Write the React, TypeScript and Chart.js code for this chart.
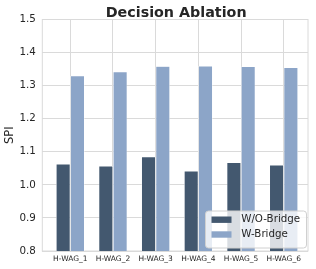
import React, { useEffect, useRef } from 'react';
import { Chart, registerables } from 'chart.js';

Chart.register(...registerables);

const categories = ['H-WAG_1', 'H-WAG_2', 'H-WAG_3', 'H-WAG_4', 'H-WAG_5', 'H-WAG_6'];
const seriesLabels = ['W/O-Bridge', 'W-Bridge'];
const withoutBridge = [1.063, 1.057, 1.085, 1.042, 1.068, 1.06];
const withBridge = [1.33, 1.342, 1.359, 1.36, 1.358, 1.355];
const yTicks = [0.8, 0.9, 1.0, 1.1, 1.2, 1.3, 1.4, 1.5];
const seriesColors = ['#43586f', '#8ca5c8'];
const titleText = 'Decision Ablation';

const TEXT = '#262626';
const GRID = '#dadada';

const framePlugin = {
  id: 'frame',
  beforeDatasetsDraw(chart: any) {
    const { ctx, chartArea: a } = chart;
    ctx.save();
    ctx.strokeStyle = GRID;
    ctx.lineWidth = 1;
    ctx.strokeRect(a.left, a.top, a.right - a.left, a.bottom - a.top);
    ctx.restore();
  },
};

const titlePlugin = {
  id: 'areaTitle',
  afterDraw(chart: any) {
    const { ctx, chartArea: a } = chart;
    ctx.save();
    ctx.font = "bold 14.3px 'DejaVu Sans'";
    ctx.fillStyle = TEXT;
    ctx.textAlign = 'center';
    ctx.textBaseline = 'alphabetic';
    ctx.fillText(titleText, (a.left + a.right) / 2 + 1, a.top - 3);
    ctx.restore();
  },
};

const legendPlugin = {
  id: 'innerLegend',
  afterDraw(chart: any) {
    const { ctx, chartArea: a } = chart;
    const w = 101;
    const h = 37;
    const x = a.right - 1.5 - w;
    const y = a.bottom - 3 - h;
    ctx.save();
    ctx.beginPath();
    const r = 3;
    ctx.moveTo(x + r, y);
    ctx.lineTo(x + w - r, y);
    ctx.quadraticCurveTo(x + w, y, x + w, y + r);
    ctx.lineTo(x + w, y + h - r);
    ctx.quadraticCurveTo(x + w, y + h, x + w - r, y + h);
    ctx.lineTo(x + r, y + h);
    ctx.quadraticCurveTo(x, y + h, x, y + h - r);
    ctx.lineTo(x, y + r);
    ctx.quadraticCurveTo(x, y, x + r, y);
    ctx.closePath();
    ctx.fillStyle = 'rgba(255,255,255,0.8)';
    ctx.fill();
    ctx.strokeStyle = '#d0d0d0';
    ctx.lineWidth = 1;
    ctx.stroke();
    ctx.font = "10.3px 'DejaVu Sans'";
    ctx.textBaseline = 'middle';
    ctx.textAlign = 'left';
    chart.data.datasets.forEach((ds: any, i: number) => {
      const cy = y + 8.7 + i * 14.8;
      ctx.fillStyle = ds.backgroundColor;
      ctx.fillRect(x + 6, cy - 3.2, 20, 6.4);
      ctx.fillStyle = TEXT;
      ctx.fillText(ds.label, x + 35.7, cy);
    });
    ctx.restore();
  },
};

export default function App() {
  const ref = useRef<HTMLCanvasElement>(null);
  useEffect(() => {
    if (!ref.current) return;
    Chart.defaults.font.family = "'DejaVu Sans'";
    const chart = new Chart(ref.current, {
      type: 'bar',
      data: {
        datasets: [
          {
            label: seriesLabels[0],
            data: withoutBridge.map((v, i) => ({ x: i, y: v })),
            backgroundColor: seriesColors[0],
            borderColor: '#ffffff',
            borderWidth: 0.6,
          },
          {
            label: seriesLabels[1],
            data: withBridge.map((v, i) => ({ x: i, y: v })),
            backgroundColor: seriesColors[1],
            borderColor: '#ffffff',
            borderWidth: 0.6,
          },
        ],
      },
      options: {
        animation: false,
        responsive: false,
        devicePixelRatio: 1,
        categoryPercentage: 0.67,
        barPercentage: 1,
        layout: { padding: { left: 0, right: 8, top: 19.5, bottom: 0 } },
        plugins: {
          legend: { display: false },
          tooltip: { enabled: false },
          title: { display: false },
        },
        scales: {
          x: {
            type: 'linear',
            offset: false,
            min: -0.656,
            max: 5.569,
            afterBuildTicks: (s: any) => {
              s.ticks = categories.map((_, i) => ({ value: i }));
            },
            afterFit: (s: any) => {
              s.height = 18;
            },
            ticks: {
              color: TEXT,
              font: { size: 7.5 },
              padding: 4,
              autoSkip: false,
              maxRotation: 0,
              callback: (v: any) => categories[v as number] ?? '',
            },
            grid: { color: GRID, drawTicks: false, offset: false },
            border: { display: false },
          },
          y: {
            min: 0.8,
            max: 1.5,
            afterBuildTicks: (s: any) => {
              s.ticks = yTicks.map((v) => ({ value: v }));
            },
            afterFit: (s: any) => {
              s.width = 42.3;
            },
            ticks: {
              color: TEXT,
              font: { size: 10.3 },
              padding: 6.5,
              callback: (v: any) => Number(v).toFixed(1),
            },
            grid: { color: GRID, drawTicks: false },
            border: { display: false },
            title: {
              display: true,
              text: 'SPI',
              color: TEXT,
              font: { size: 11.5 },
              padding: { top: 3, bottom: 0 },
            },
          },
        },
      },
      plugins: [framePlugin, titlePlugin, legendPlugin],
    } as any);
    return () => chart.destroy();
  }, []);
  return (
    <div style={{ position: 'fixed', left: 0, top: 0, width: 316, height: 269, background: '#fff' }}>
      <canvas ref={ref} width={316} height={269} style={{ display: 'block' }} />
    </div>
  );
}
